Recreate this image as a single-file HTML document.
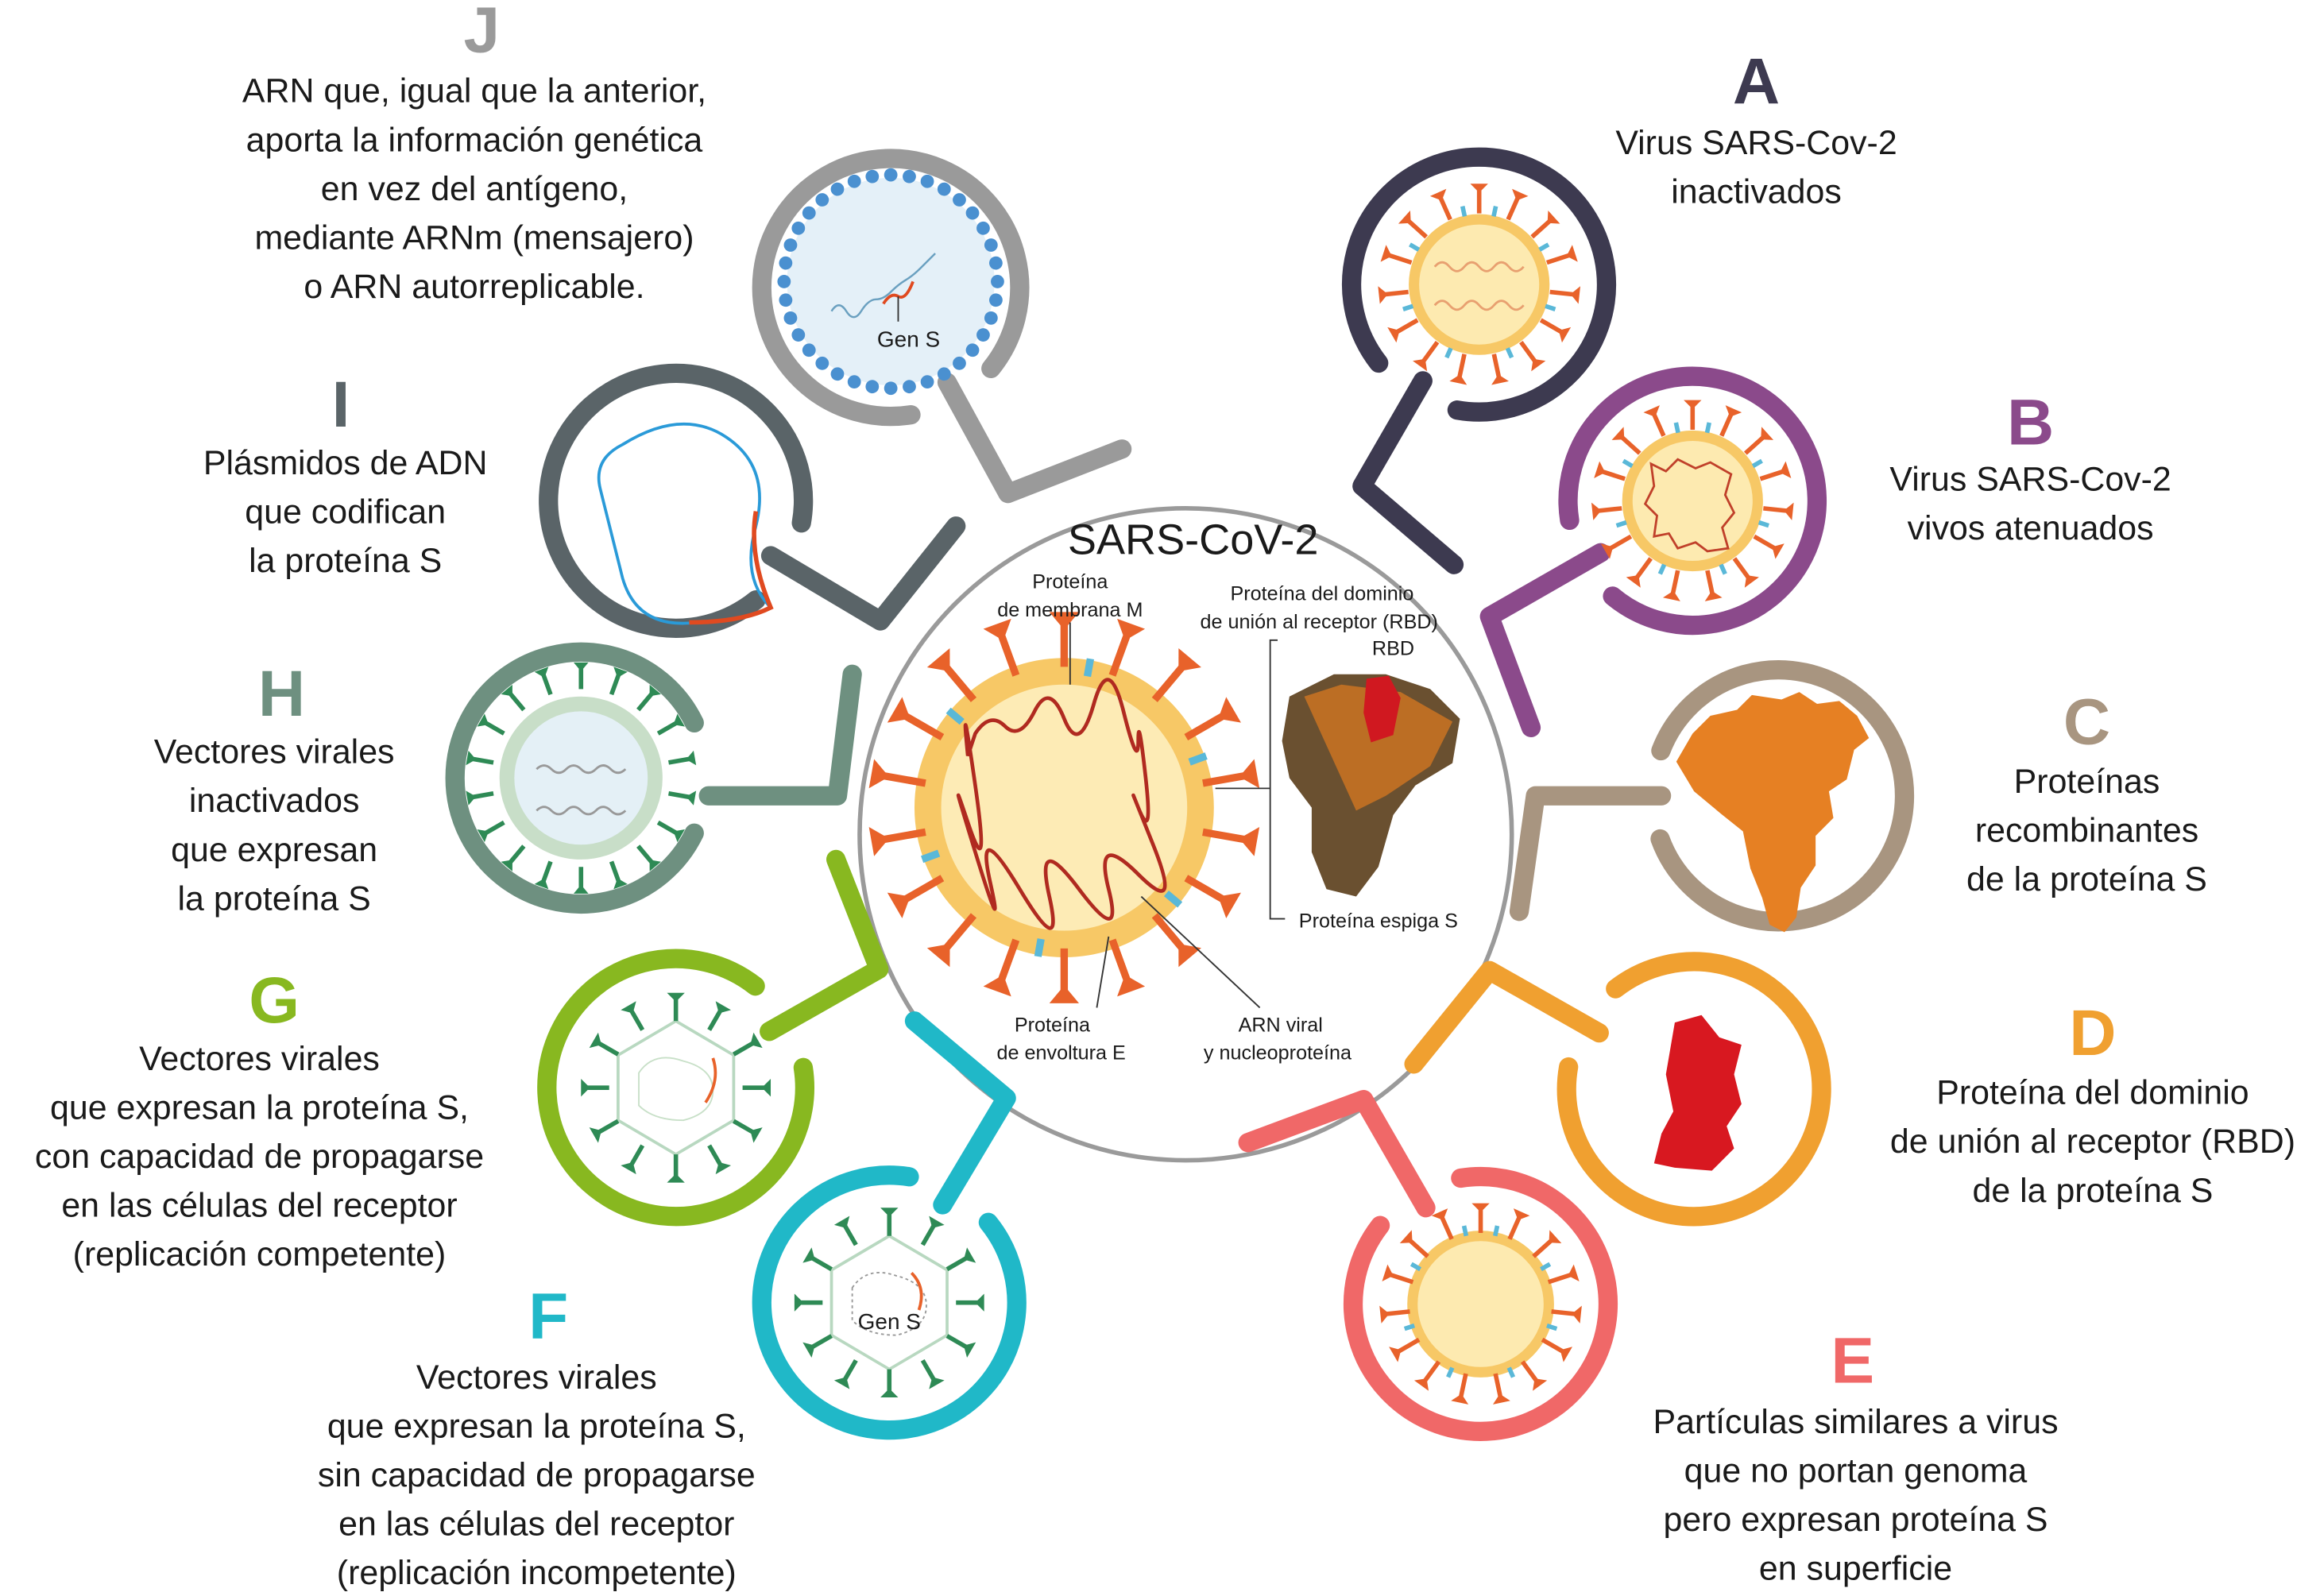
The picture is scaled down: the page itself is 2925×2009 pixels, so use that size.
<!DOCTYPE html>
<html><head><meta charset="utf-8"><style>
html,body{margin:0;padding:0;background:#fff}
svg{display:block}
text{font-family:"Liberation Sans",sans-serif;fill:#1a1a1a}
.t{font-size:23px;text-anchor:middle}
.L{font-size:44px;font-weight:bold;text-anchor:middle}
.s{font-size:13.5px;text-anchor:middle}
.rg{fill:none;stroke-width:13;stroke-linecap:round;stroke-linejoin:round}
</style></head><body>
<svg width="2925" height="2009" viewBox="0 0 1568 1077" xmlns="http://www.w3.org/2000/svg">
<defs>
<g id="spA"><line x1="0" y1="-48" x2="0" y2="-66" stroke="#e8622a" stroke-width="3"/><path d="M-6,-68 L6,-68 L0,-62Z" fill="#e8622a"/></g>
<g id="tkA"><line x1="0" y1="-47" x2="0" y2="-54" stroke="#5ab8d8" stroke-width="3"/></g>
<g id="spC"><line x1="0" y1="-95" x2="0" y2="-128" stroke="#e8622a" stroke-width="5"/><path d="M-10,-132 L10,-132 L0,-120Z" fill="#e8622a"/></g>
<g id="tkC"><line x1="0" y1="-90" x2="0" y2="-102" stroke="#5ab8d8" stroke-width="5"/></g>
<g id="spH"><line x1="0" y1="-60" x2="0" y2="-76" stroke="#2e8a55" stroke-width="3"/><path d="M-5,-78 L5,-78 L0,-72Z" fill="#2e8a55"/></g>
<g id="spG"><line x1="0" y1="-45" x2="0" y2="-62" stroke="#2e8a55" stroke-width="3"/><path d="M-6,-64 L6,-64 L0,-58Z" fill="#2e8a55"/></g>
<g id="dot"><circle cx="0" cy="-72" r="4.5" fill="#4a90d0"/></g>
</defs>

<!-- central circle -->
<circle cx="800" cy="563" r="220" fill="none" stroke="#9a9a9a" stroke-width="3"/>
<text x="805" y="374" style="font-size:29px;text-anchor:middle">SARS-CoV-2</text>

<!-- rings & connectors -->
<path class="rg" stroke="#3d3a50" d="M930.2,245 A86,86 0 1 1 983.1,276.7"/>
<polyline class="rg" stroke="#3d3a50" points="960,257 919,328 981,381"/>

<path class="rg" stroke="#8b4a8b" d="M1059,351.1 A84,84 0 1 1 1088,402.3"/>
<polyline class="rg" stroke="#8b4a8b" points="1080,373 1005,416 1033,491"/>

<path class="rg" stroke="#a89580" d="M1120.6,506.6 A85,85 0 1 1 1120.1,566.1"/>
<polyline class="rg" stroke="#a89580" points="1121,537 1036,537 1025,615"/>

<path class="rg" stroke="#f0a030" d="M1090,667.2 A86,86 0 1 1 1058.3,720"/>
<polyline class="rg" stroke="#f0a030" points="1079,697 1005,655 954,718"/>

<path class="rg" stroke="#f06868" d="M985.5,795 A86,86 0 1 1 931.2,827"/>
<polyline class="rg" stroke="#f06868" points="962,815 920,742 842,771"/>

<path class="rg" stroke="#20b8c8" d="M666.8,824.9 A86,86 0 1 1 613.5,794.1"/>
<polyline class="rg" stroke="#20b8c8" points="636,813 679,741 617,689"/>

<path class="rg" stroke="#88b820" d="M541.9,720.4 A87,87 0 1 1 509.6,665.4"/>
<polyline class="rg" stroke="#88b820" points="519,696 593,654 564,580"/>

<path class="rg" stroke="#6e9080" d="M468.4,562.2 A85,85 0 1 1 468.4,487.8"/>
<polyline class="rg" stroke="#6e9080" points="478,537 565,537 575,455"/>

<path class="rg" stroke="#5a6468" d="M510.1,404.8 A86,86 0 1 1 540.7,352.9"/>
<polyline class="rg" stroke="#5a6468" points="520,375 594,419 645,355"/>

<path class="rg" stroke="#9a9a9a" d="M614.6,279.9 A87,87 0 1 1 668.6,248.7"/>
<polyline class="rg" stroke="#9a9a9a" points="639,258 680,333 757,303"/>

<!-- A virus -->
<g transform="translate(998,192)">
<circle r="44" fill="#fdeab0" stroke="#f7c866" stroke-width="7"/>
<path d="M-30,-12 q5,-6 10,0 t10,0 t10,0 t10,0 t10,0 t10,0 M-30,14 q5,-6 10,0 t10,0 t10,0 t10,0 t10,0 t10,0" fill="none" stroke="#e8a070" stroke-width="1.5"/>
<use href="#spA"/><use href="#spA" transform="rotate(24)"/><use href="#spA" transform="rotate(48)"/><use href="#spA" transform="rotate(72)"/><use href="#spA" transform="rotate(96)"/><use href="#spA" transform="rotate(120)"/><use href="#spA" transform="rotate(144)"/><use href="#spA" transform="rotate(168)"/><use href="#spA" transform="rotate(192)"/><use href="#spA" transform="rotate(216)"/><use href="#spA" transform="rotate(240)"/><use href="#spA" transform="rotate(264)"/><use href="#spA" transform="rotate(288)"/><use href="#spA" transform="rotate(312)"/><use href="#spA" transform="rotate(336)"/>
<use href="#tkA" transform="rotate(12)"/><use href="#tkA" transform="rotate(60)"/><use href="#tkA" transform="rotate(108)"/><use href="#tkA" transform="rotate(156)"/><use href="#tkA" transform="rotate(204)"/><use href="#tkA" transform="rotate(252)"/><use href="#tkA" transform="rotate(300)"/><use href="#tkA" transform="rotate(348)"/>
</g>
<!-- B virus -->
<g transform="translate(1142,338)">
<circle r="44" fill="#fdeab0" stroke="#f7c866" stroke-width="7"/>
<path d="M-28,-25 l10,5 l8,-8 l12,6 l10,-4 l14,8 l-4,14 l6,12 l-8,10 l4,14 l-14,2 l-8,-6 l-12,4 l-6,-10 l-10,2 l2,-14 l-8,-8 l6,-12z" fill="none" stroke="#c0402a" stroke-width="1.5"/>
<use href="#spA"/><use href="#spA" transform="rotate(24)"/><use href="#spA" transform="rotate(48)"/><use href="#spA" transform="rotate(72)"/><use href="#spA" transform="rotate(96)"/><use href="#spA" transform="rotate(120)"/><use href="#spA" transform="rotate(144)"/><use href="#spA" transform="rotate(168)"/><use href="#spA" transform="rotate(192)"/><use href="#spA" transform="rotate(216)"/><use href="#spA" transform="rotate(240)"/><use href="#spA" transform="rotate(264)"/><use href="#spA" transform="rotate(288)"/><use href="#spA" transform="rotate(312)"/><use href="#spA" transform="rotate(336)"/>
<use href="#tkA" transform="rotate(12)"/><use href="#tkA" transform="rotate(60)"/><use href="#tkA" transform="rotate(108)"/><use href="#tkA" transform="rotate(156)"/><use href="#tkA" transform="rotate(204)"/><use href="#tkA" transform="rotate(252)"/><use href="#tkA" transform="rotate(300)"/><use href="#tkA" transform="rotate(348)"/>
</g>
<!-- E virus -->
<g transform="translate(999,880)">
<circle r="46" fill="#fdeab0" stroke="#f7c866" stroke-width="7"/>
<use href="#spA"/><use href="#spA" transform="rotate(24)"/><use href="#spA" transform="rotate(48)"/><use href="#spA" transform="rotate(72)"/><use href="#spA" transform="rotate(96)"/><use href="#spA" transform="rotate(120)"/><use href="#spA" transform="rotate(144)"/><use href="#spA" transform="rotate(168)"/><use href="#spA" transform="rotate(192)"/><use href="#spA" transform="rotate(216)"/><use href="#spA" transform="rotate(240)"/><use href="#spA" transform="rotate(264)"/><use href="#spA" transform="rotate(288)"/><use href="#spA" transform="rotate(312)"/><use href="#spA" transform="rotate(336)"/>
<use href="#tkA" transform="rotate(12)"/><use href="#tkA" transform="rotate(60)"/><use href="#tkA" transform="rotate(108)"/><use href="#tkA" transform="rotate(156)"/><use href="#tkA" transform="rotate(204)"/><use href="#tkA" transform="rotate(252)"/><use href="#tkA" transform="rotate(300)"/><use href="#tkA" transform="rotate(348)"/>
</g>
<!-- C protein -->
<path d="M1142,495 l12,-12 l18,-4 l10,-10 l20,3 l12,-5 l12,8 l15,-2 l12,10 l8,15 l-10,8 l-5,20 l-12,8 l3,18 l-12,12 l0,20 l-10,15 l-3,20 l-8,10 l-10,-5 l-5,-18 l-8,-20 l-5,-25 l-15,-12 l-18,-15 l-12,-20z" fill="#e68023"/>
<!-- D RBD -->
<path d="M1130,690 l18,-5 l12,15 l15,5 l-5,20 l5,20 l-10,15 l5,15 l-15,15 l-25,-2 l-14,-3 l5,-20 l8,-15 l-5,-25z" fill="#d81820"/>
<!-- H -->
<g transform="translate(392,525)">
<circle r="50" fill="#e4f0f6" stroke="#c8dec8" stroke-width="10"/>
<path d="M-30,-6 q5,-5 10,0 t10,0 t10,0 t10,0 t10,0 t10,0 M-30,22 q5,-5 10,0 t10,0 t10,0 t10,0 t10,0 t10,0" fill="none" stroke="#999" stroke-width="1.5"/>
<use href="#spH"/><use href="#spH" transform="rotate(20)"/><use href="#spH" transform="rotate(40)"/><use href="#spH" transform="rotate(60)"/><use href="#spH" transform="rotate(80)"/><use href="#spH" transform="rotate(100)"/><use href="#spH" transform="rotate(120)"/><use href="#spH" transform="rotate(140)"/><use href="#spH" transform="rotate(160)"/><use href="#spH" transform="rotate(180)"/><use href="#spH" transform="rotate(200)"/><use href="#spH" transform="rotate(220)"/><use href="#spH" transform="rotate(240)"/><use href="#spH" transform="rotate(260)"/><use href="#spH" transform="rotate(280)"/><use href="#spH" transform="rotate(300)"/><use href="#spH" transform="rotate(320)"/><use href="#spH" transform="rotate(340)"/>
</g>
<!-- G -->
<g transform="translate(456,734)">
<polygon points="0,-45 39,-22 39,22 0,45 -39,22 -39,-22" fill="#fff" stroke="#b8d8c0" stroke-width="2"/>
<path d="M-25,-10 q10,-15 30,-8 q20,5 20,20 q0,15 -20,20 q-20,0 -30,-10z" fill="none" stroke="#c8e0c8" stroke-width="1"/>
<path d="M25,-20 q5,15 -5,30" fill="none" stroke="#e8622a" stroke-width="2"/>
<use href="#spG" transform="rotate(0)"/><use href="#spG" transform="rotate(30)"/><use href="#spG" transform="rotate(60)"/><use href="#spG" transform="rotate(90)"/><use href="#spG" transform="rotate(120)"/><use href="#spG" transform="rotate(150)"/><use href="#spG" transform="rotate(180)"/><use href="#spG" transform="rotate(210)"/><use href="#spG" transform="rotate(240)"/><use href="#spG" transform="rotate(270)"/><use href="#spG" transform="rotate(300)"/><use href="#spG" transform="rotate(330)"/>
</g>
<!-- F -->
<g transform="translate(600,879)">
<polygon points="0,-45 39,-22 39,22 0,45 -39,22 -39,-22" fill="#fff" stroke="#b8d8c0" stroke-width="2"/>
<path d="M-25,-10 q10,-15 30,-8 q20,5 20,20 q0,15 -20,20 q-20,0 -30,-10z" fill="none" stroke="#999" stroke-width="1" stroke-dasharray="2 2"/>
<path d="M15,-20 q10,10 5,25" fill="none" stroke="#e8622a" stroke-width="2"/>
<text x="0" y="18" style="font-size:15px;text-anchor:middle">Gen S</text>
<use href="#spG" transform="rotate(0)"/><use href="#spG" transform="rotate(30)"/><use href="#spG" transform="rotate(60)"/><use href="#spG" transform="rotate(90)"/><use href="#spG" transform="rotate(120)"/><use href="#spG" transform="rotate(150)"/><use href="#spG" transform="rotate(180)"/><use href="#spG" transform="rotate(210)"/><use href="#spG" transform="rotate(240)"/><use href="#spG" transform="rotate(270)"/><use href="#spG" transform="rotate(300)"/><use href="#spG" transform="rotate(330)"/>
</g>
<!-- I plasmid -->
<path d="M420,300 q40,-25 70,-5 q30,20 20,60 q-10,35 10,55 q-20,10 -50,10 q-40,5 -50,-30 q-10,-40 -15,-60 q-5,-20 15,-30z" fill="none" stroke="#2a9ad8" stroke-width="2"/>
<path d="M510,345 q-5,30 10,65 q-20,10 -55,10" fill="none" stroke="#e04a20" stroke-width="3"/>
<!-- J -->
<g transform="translate(601,190)">
<circle r="70" fill="#e4f0f8"/>
<use href="#dot"/><use href="#dot" transform="rotate(10)"/><use href="#dot" transform="rotate(20)"/><use href="#dot" transform="rotate(30)"/><use href="#dot" transform="rotate(40)"/><use href="#dot" transform="rotate(50)"/><use href="#dot" transform="rotate(60)"/><use href="#dot" transform="rotate(70)"/><use href="#dot" transform="rotate(80)"/><use href="#dot" transform="rotate(90)"/><use href="#dot" transform="rotate(100)"/><use href="#dot" transform="rotate(110)"/><use href="#dot" transform="rotate(120)"/><use href="#dot" transform="rotate(130)"/><use href="#dot" transform="rotate(140)"/><use href="#dot" transform="rotate(150)"/><use href="#dot" transform="rotate(160)"/><use href="#dot" transform="rotate(170)"/><use href="#dot" transform="rotate(180)"/><use href="#dot" transform="rotate(190)"/><use href="#dot" transform="rotate(200)"/><use href="#dot" transform="rotate(210)"/><use href="#dot" transform="rotate(220)"/><use href="#dot" transform="rotate(230)"/><use href="#dot" transform="rotate(240)"/><use href="#dot" transform="rotate(250)"/><use href="#dot" transform="rotate(260)"/><use href="#dot" transform="rotate(270)"/><use href="#dot" transform="rotate(280)"/><use href="#dot" transform="rotate(290)"/><use href="#dot" transform="rotate(300)"/><use href="#dot" transform="rotate(310)"/><use href="#dot" transform="rotate(320)"/><use href="#dot" transform="rotate(330)"/><use href="#dot" transform="rotate(340)"/><use href="#dot" transform="rotate(350)"/>
<path d="M-40,20 q5,-8 10,0 t10,0 t10,-8 t10,-5 t10,-8 t10,-8 t10,-10" fill="none" stroke="#6aa0c0" stroke-width="1.3"/>
<path d="M-5,15 q5,-8 10,-5 t10,-10" fill="none" stroke="#e04a20" stroke-width="2"/>
<line x1="5" y1="10" x2="5" y2="27" stroke="#333" stroke-width="1"/>
<text x="12" y="44" style="font-size:15px;text-anchor:middle">Gen S</text>
</g>

<!-- central virus -->
<g transform="translate(718,545)">
<circle r="92" fill="#fdebb5" stroke="#f7c866" stroke-width="18"/>
<use href="#spC"/><use href="#spC" transform="rotate(20)"/><use href="#spC" transform="rotate(40)"/><use href="#spC" transform="rotate(60)"/><use href="#spC" transform="rotate(80)"/><use href="#spC" transform="rotate(100)"/><use href="#spC" transform="rotate(120)"/><use href="#spC" transform="rotate(140)"/><use href="#spC" transform="rotate(160)"/><use href="#spC" transform="rotate(180)"/><use href="#spC" transform="rotate(200)"/><use href="#spC" transform="rotate(220)"/><use href="#spC" transform="rotate(240)"/><use href="#spC" transform="rotate(260)"/><use href="#spC" transform="rotate(280)"/><use href="#spC" transform="rotate(300)"/><use href="#spC" transform="rotate(320)"/><use href="#spC" transform="rotate(340)"/>
<use href="#tkC" transform="rotate(10)"/><use href="#tkC" transform="rotate(70)"/><use href="#tkC" transform="rotate(130)"/><use href="#tkC" transform="rotate(190)"/><use href="#tkC" transform="rotate(250)"/><use href="#tkC" transform="rotate(310)"/>
<path d="M-60,-50 q10,-15 20,-5 t20,-10 t20,5 t20,-10 t20,5 t10,20 t5,25 t-5,20 t10,25 t-10,20 t-20,10 t-20,0 t-20,5 t-20,-5 t-20,-5 t-10,-20 t-5,-20 t5,-25 t-5,-20z" fill="none" stroke="#b02a20" stroke-width="2.5"/>
</g>
<line x1="722" y1="420" x2="722" y2="462" stroke="#333" stroke-width="1"/>
<line x1="748" y1="632" x2="740" y2="680" stroke="#333" stroke-width="1"/>
<line x1="770" y1="605" x2="850" y2="680" stroke="#333" stroke-width="1"/>
<text class="s" x="722" y="397">Proteína</text>
<text class="s" x="722" y="416">de membrana M</text>
<text class="s" x="710" y="696">Proteína</text>
<text class="s" x="716" y="715">de envoltura E</text>
<text class="s" x="864" y="696">ARN viral</text>
<text class="s" x="862" y="715">y nucleoproteína</text>
<text class="s" x="892" y="405">Proteína del dominio</text>
<text class="s" x="890" y="424">de unión al receptor (RBD)</text>
<text class="s" x="940" y="442">RBD</text>
<text class="s" x="930" y="626">Proteína espiga S</text>
<polyline points="862,432 857,432 857,620 867,620" fill="none" stroke="#333" stroke-width="1"/>
<line x1="857" y1="532" x2="820" y2="532" stroke="#333" stroke-width="1"/>
<!-- spike protein -->
<path d="M870,470 l30,-15 l35,0 l30,10 l20,20 l-5,30 l-25,15 l-15,20 l-10,35 l-15,20 l-20,-5 l-10,-25 l0,-30 l-15,-20 l-5,-25z" fill="#6a5030"/>
<path d="M880,470 l25,-8 l40,5 l35,20 l-15,30 l-30,20 l-20,10 z" fill="#e07a20" opacity="0.7"/>
<path d="M922,458 l15,-2 l8,15 l-5,25 l-15,5 l-5,-20z" fill="#d01820"/>

<!-- labels -->
<text class="L" x="325" y="35" style="fill:#9a9a9a">J</text>
<text class="t" x="320" y="69">ARN que, igual que la anterior,</text>
<text class="t" x="320" y="102">aporta la información genética</text>
<text class="t" x="320" y="135">en vez del antígeno,</text>
<text class="t" x="320" y="168">mediante ARNm (mensajero)</text>
<text class="t" x="320" y="201">o ARN autorreplicable.</text>

<text class="L" x="1185" y="70" style="fill:#3d3a50">A</text>
<text class="t" x="1185" y="104">Virus SARS-Cov-2</text>
<text class="t" x="1185" y="137">inactivados</text>

<text class="L" x="1370" y="300" style="fill:#8b4a8b">B</text>
<text class="t" x="1370" y="331">Virus SARS-Cov-2</text>
<text class="t" x="1370" y="364">vivos atenuados</text>

<text class="L" x="230" y="288" style="fill:#5a6468">I</text>
<text class="t" x="233" y="320">Plásmidos de ADN</text>
<text class="t" x="233" y="353">que codifican</text>
<text class="t" x="233" y="386">la proteína S</text>

<text class="L" x="1408" y="502" style="fill:#a89580">C</text>
<text class="t" x="1408" y="535">Proteínas</text>
<text class="t" x="1408" y="568">recombinantes</text>
<text class="t" x="1408" y="601">de la proteína S</text>

<text class="L" x="190" y="483" style="fill:#6e9080">H</text>
<text class="t" x="185" y="515">Vectores virales</text>
<text class="t" x="185" y="548">inactivados</text>
<text class="t" x="185" y="581">que expresan</text>
<text class="t" x="185" y="614">la proteína S</text>

<text class="L" x="1412" y="712" style="fill:#f0a030">D</text>
<text class="t" x="1412" y="745">Proteína del dominio</text>
<text class="t" x="1412" y="778">de unión al receptor (RBD)</text>
<text class="t" x="1412" y="811">de la proteína S</text>

<text class="L" x="185" y="690" style="fill:#88b820">G</text>
<text class="t" x="175" y="722">Vectores virales</text>
<text class="t" x="175" y="755">que expresan la proteína S,</text>
<text class="t" x="175" y="788">con capacidad de propagarse</text>
<text class="t" x="175" y="821">en las células del receptor</text>
<text class="t" x="175" y="854">(replicación competente)</text>

<text class="L" x="370" y="903" style="fill:#20b8c8">F</text>
<text class="t" x="362" y="937">Vectores virales</text>
<text class="t" x="362" y="970">que expresan la proteína S,</text>
<text class="t" x="362" y="1003">sin capacidad de propagarse</text>
<text class="t" x="362" y="1036">en las células del receptor</text>
<text class="t" x="362" y="1069">(replicación incompetente)</text>

<text class="L" x="1250" y="933" style="fill:#f06868">E</text>
<text class="t" x="1252" y="967">Partículas similares a virus</text>
<text class="t" x="1252" y="1000">que no portan genoma</text>
<text class="t" x="1252" y="1033">pero expresan proteína S</text>
<text class="t" x="1252" y="1066">en superficie</text>
</svg>
</body></html>
